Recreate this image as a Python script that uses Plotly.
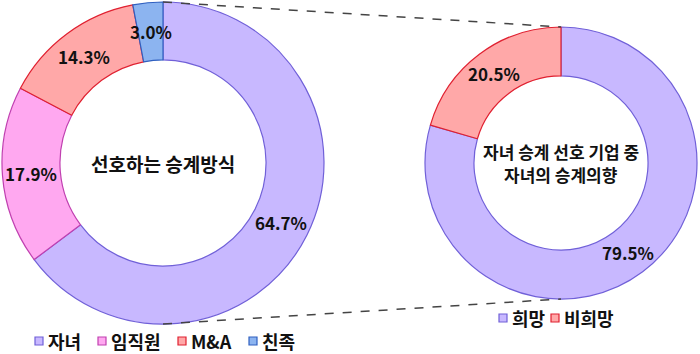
import math
import plotly.graph_objects as go

# ---- data ----
left_labels = ["자녀", "임직원", "M&A", "친족"]
left_values = [64.7, 17.9, 14.3, 3.0]
left_title = ["선호하는 승계방식"]

right_labels = ["희망", "비희망"]
right_values = [79.5, 20.5]
right_title = ["자녀 승계 선호 기업 중", "자녀의 승계의향"]

# ---- styles ----
left_fill = ["#C8B8FF", "#FFA8F0", "#FFA8A8", "#8CB4F0"]
left_line = ["#7060D8", "#C040B0", "#E02030", "#3060C0"]
right_fill = ["#C8B8FF", "#FFA8A8"]
right_line = ["#7060D8", "#E02030"]

W, H = 700, 354
FONT = "Noto Sans CJK KR"

# geometry (pixels, from top-left)
L_c = (163, 163); L_r = 161
R_c = (561, 163); R_r = 136
HOLE = 0.64

# legend placement (pixels): square left x for each item, row y
left_leg_x = [35, 98, 178, 249]
left_leg_y = 341
right_leg_x = [499, 551]
right_leg_y = 318


def dom(c, r):
    x0, x1 = (c[0] - r) / W, (c[0] + r) / W
    yc = H - c[1]
    y0, y1 = (yc - r) / H, (yc + r) / H
    return dict(x=[x0, x1], y=[y0, y1])


fig = go.Figure()
fig.add_trace(go.Pie(
    labels=left_labels, values=left_values, sort=False, direction="clockwise",
    rotation=0, hole=HOLE, domain=dom(L_c, L_r), textinfo="none",
    marker=dict(colors=left_fill, line=dict(color=left_line, width=1.2)),
    showlegend=False, hoverinfo="label+percent",
))
fig.add_trace(go.Pie(
    labels=right_labels, values=right_values, sort=False, direction="clockwise",
    rotation=0, hole=HOLE, domain=dom(R_c, R_r), textinfo="none",
    marker=dict(colors=right_fill, line=dict(color=right_line, width=1.2)),
    showlegend=False, hoverinfo="label+percent",
))

annotations = []
shapes = []


def px(x):
    return x / W


def py(y):
    return (H - y) / H


def add_labels(values, c, r):
    total = sum(values)
    cum = 0
    rm = r * (1 + HOLE) / 2
    for v in values:
        mid = (cum + v / 2) / total * 2 * math.pi
        cum += v
        x = c[0] + rm * math.sin(mid)
        y = c[1] - rm * math.cos(mid)
        annotations.append(dict(
            x=px(x), y=py(y), xref="paper", yref="paper",
            text=f"<b>{v:.1f}%</b>", showarrow=False,
            font=dict(family=FONT, size=17, color="#111"),
            xanchor="center", yanchor="middle"))


add_labels(left_values, L_c, L_r)
add_labels(right_values, R_c, R_r)


def add_title(lines, c, size, spacing):
    n = len(lines)
    for i, t in enumerate(lines):
        off = (i - (n - 1) / 2) * spacing
        annotations.append(dict(x=px(c[0]), y=py(c[1] + off), xref="paper", yref="paper",
                                text=f"<b>{t}</b>", showarrow=False,
                                xanchor="center", yanchor="middle",
                                font=dict(family=FONT, size=size, color="#111")))


add_title(left_title, L_c, 19, 0)
add_title(right_title, R_c, 17, 23)


def add_legend(labels, fills, lines, xs, y):
    s = 8
    for lab, f, l, x in zip(labels, fills, lines, xs):
        shapes.append(dict(type="rect", xref="paper", yref="paper",
                           x0=px(x), x1=px(x + s), y0=py(y + s / 2), y1=py(y - s / 2),
                           fillcolor=f, line=dict(color=l, width=1.2)))
        annotations.append(dict(x=px(x + s + 3), y=py(y), xref="paper", yref="paper",
                                text=f"<b>{lab}</b>", showarrow=False,
                                xanchor="left", yanchor="middle",
                                font=dict(family=FONT, size=18, color="#111")))


add_legend(left_labels, left_fill, left_line, left_leg_x, left_leg_y)
add_legend(right_labels, right_fill, right_line, right_leg_x, right_leg_y)

shapes += [
    dict(type="line", xref="paper", yref="paper",
         x0=px(L_c[0]), y0=py(L_c[1] - L_r), x1=px(R_c[0]), y1=py(R_c[1] - R_r),
         line=dict(color="#444", width=1.5, dash="dash")),
    dict(type="line", xref="paper", yref="paper",
         x0=px(L_c[0]), y0=py(L_c[1] + L_r), x1=px(R_c[0]), y1=py(R_c[1] + R_r),
         line=dict(color="#444", width=1.5, dash="dash")),
]

fig.update_layout(
    width=W, height=H, margin=dict(l=0, r=0, t=0, b=0),
    paper_bgcolor="white", plot_bgcolor="white",
    font=dict(family=FONT, color="#111"),
    annotations=annotations, shapes=shapes, showlegend=False,
)

fig.write_html("out.html")
